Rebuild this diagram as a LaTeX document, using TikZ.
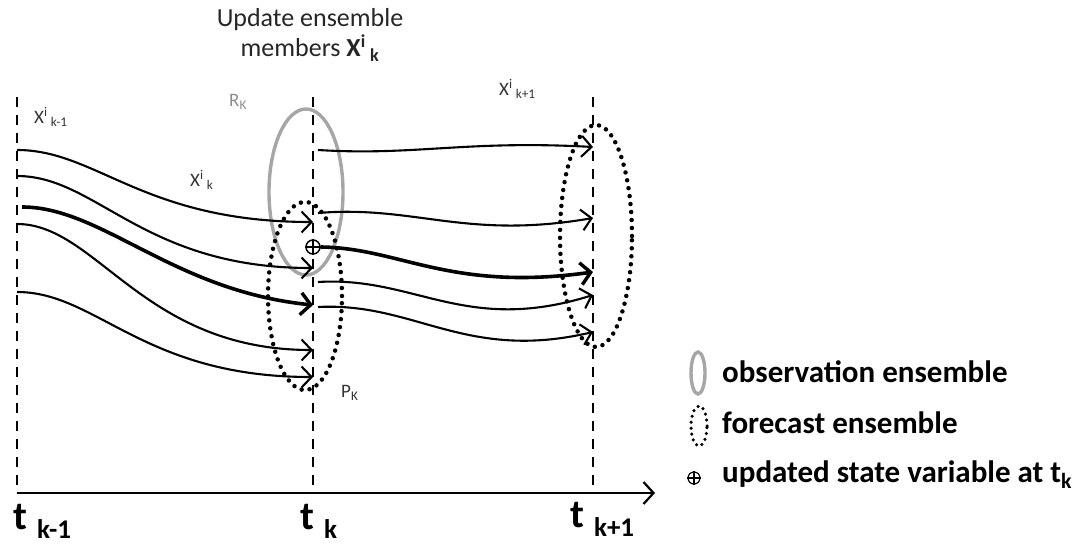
\documentclass[tikz,border=0pt]{standalone}
\usepackage{fontspec}
\setmainfont{Carlito}
\usetikzlibrary{arrows.meta, positioning, shapes.geometric}

\newcommand{\tlab}[1]{{\fontsize{40}{40}\selectfont\bfseries t}\hspace{10pt}\raisebox{-9pt}{\fontsize{27}{27}\selectfont\bfseries #1}}
\newcommand{\xlab}[1]{X\textsuperscript{i}\,\textsubscript{#1}}

\begin{document}
\begin{tikzpicture}[x=1pt, y=-1pt,
    timeline/.style={dash pattern=on 10pt off 8pt, line width=2.4pt},
    member/.style={line width=2.1pt, -{Straight Barb[length=10pt, width=21pt, line width=2.1pt]}},
    mainmember/.style={line width=3.6pt, -{Straight Barb[length=10pt, width=22pt, line width=3.4pt]}},
    obsens/.style={ellipse, draw=black!35, line width=3.4pt, inner sep=0pt},
    fcens/.style={ellipse, draw, line width=4.5pt, dash pattern=on 0pt off 8pt, line cap=round, inner sep=0pt},
    update/.style={circle, draw, fill=white, line width=1.5pt, minimum size=14pt, inner sep=0pt},
    lbl/.style={font=\fontsize{19}{22}\selectfont, text=black!80, inner sep=0pt, anchor=west},
    leg/.style={font=\bfseries\fontsize{31}{36}\selectfont, anchor=base west, inner sep=0pt},
]
\useasboundingbox (0,0) rectangle (1086,545);

% time axis and time levels
\coordinate (o) at (17,493);
\coordinate (tend) at (655,493);
\draw[line width=2.4pt, -{Straight Barb[length=10pt, width=22pt, line width=2.2pt]}] (o) -- (tend);
\foreach \n/\x in {0/17, 1/313, 2/593} {
    \coordinate (top\n) at (\x,97);
    \coordinate (bot\n) at (\x,493);
    \draw[timeline] (top\n) -- (bot\n);
}
\node[anchor=base west, inner sep=0pt] (lt0) at (13,529) {\tlab{k-1}};
\node[anchor=base west, inner sep=0pt] (lt1) at (300,529) {\tlab{k}};
\node[anchor=base west, inner sep=0pt] (lt2) at (570,527) {\tlab{k+1}};

% ensembles
\node[obsens, minimum width=74pt, minimum height=166pt] (obs) at (306,192) {};
\node[fcens, minimum width=74pt, minimum height=188pt] (fc1) at (305,296) {};
\node[fcens, minimum width=72pt, minimum height=222pt] (fc2) at (596,236) {};

% forecast members from t_{k-1} to t_k
\foreach \i/\ya/\yb in {1/150/222, 2/176/268, 4/224/350, 5/292/377} {
    \coordinate (s\i) at (17,\ya);
    \coordinate (e\i) at (313,\yb);
    \draw[member] (s\i) .. controls +(80,0) and +(-170,0) .. (e\i);
}
\coordinate (s3) at (22,207);
\coordinate (e3) at (313,305);
\draw[mainmember] (s3) .. controls +(80,0) and +(-140,-14) .. (e3);

% updated members from t_k to t_{k+1}
\node[update] (upd) at (313,247) {};
\draw[line width=1.5pt] (upd.north) -- (upd.south) (upd.west) -- (upd.east);
\foreach \i/\ya/\yb/\ca/\cb in {a/150/147/156/140, b/213/218/205/240, d/282/295/276/335, e/307/332/302/362} {
    \coordinate (u\i) at (318,\ya);
    \coordinate (f\i) at (593,\yb);
    \draw[member] (u\i) .. controls (415,\ca) and (465,\cb) .. (f\i);
}
\coordinate (fc) at (593,272);
\draw[mainmember] (upd.east) .. controls (400,248) and (450,292) .. (fc);

% labels
\node[anchor=base, font=\fontsize{26}{30}\selectfont, inner sep=0pt, text=black!85] (title1) at (310,27) {Update ensemble};
\node[anchor=base, font=\fontsize{26}{30}\selectfont, inner sep=0pt, text=black!85] (title2) at (310,57) {members \textbf{\xlab{k}}};
\node[lbl] (xk0) at (34,117) {\xlab{k-1}};
\node[lbl] (xk1) at (190,180) {\xlab{k}};
\node[lbl] (xk2) at (499,89) {\xlab{k+1}};
\node[lbl, text=black!45] (rk) at (229,102) {R\textsubscript{K}};
\node[lbl] (pk) at (341,393) {P\textsubscript{K}};

% legend
\node[obsens, minimum width=14pt, minimum height=42pt] (legobs) at (698,373) {};
\node[fcens, minimum width=16pt, minimum height=40pt, line width=3.5pt, dash pattern=on 0pt off 6pt] (legfc) at (699,426) {};
\node[update, minimum size=12pt, line width=1.2pt] (legupd) at (694,478) {};
\draw[line width=1.2pt] (legupd.north) -- (legupd.south) (legupd.west) -- (legupd.east);
\node[leg] (tobs) at (722,382) {observation ensemble};
\node[leg] (tfc) at (722,433) {forecast ensemble};
\node[leg] (tupd) at (722,482) {updated state variable at t\textsubscript{k}};
\end{tikzpicture}
\end{document}
